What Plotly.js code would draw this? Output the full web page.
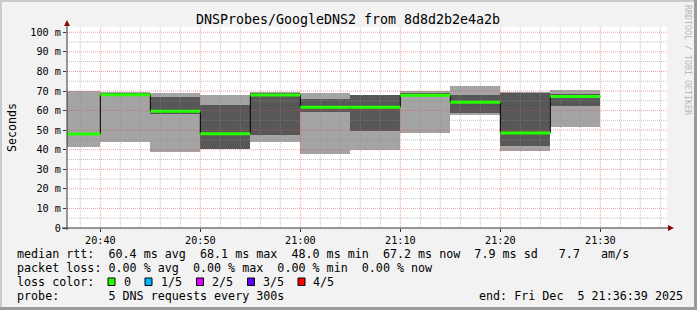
<!DOCTYPE html>
<html><head><meta charset="utf-8">
<script src="https://cdn.plot.ly/plotly-3.0.1.min.js"></script>
<style>
html,body{margin:0;padding:0;background:#f2f2f2;}
#wrap{position:relative;width:697px;height:310px;overflow:hidden;}
#chart{position:absolute;left:0;top:0;width:697px;height:310px;}
.b{position:absolute;pointer-events:none;}
</style></head><body>
<div id="wrap"><div id="chart"></div>
<div class="b" style="left:0;top:0;width:697px;height:2px;background:#cbcbcb"></div>
<div class="b" style="left:0;top:0;width:2px;height:310px;background:#cbcbcb"></div>
<div class="b" style="right:0;top:0;width:3px;height:310px;background:#9a9a9a"></div>
<div class="b" style="left:0;bottom:0;width:697px;height:3px;background:#9a9a9a"></div>
</div>
<script>
// ---- data ----
const day = [2025, 11, 5];           // 2025-12-05 (month index 11)
const times  = ['20:40','20:45','20:50','20:55','21:00','21:05','21:10','21:15','21:20','21:25','21:30'];
const ping1  = [41.6, 44.1, 39.0, 40.2, 44.1, 38.0, 39.9, 48.7, 57.8, 39.6, 51.8];
const ping2  = [47.5, 67.3, 58.5, 40.5, 47.6, 59.1, 49.8, 67.2, 59.0, 41.9, 62.3];
const median = [48.0, 68.1, 59.6, 48.1, 68.0, 61.7, 61.7, 67.8, 64.2, 48.6, 67.2];
const ping4  = [48.5, 68.8, 66.9, 62.9, 69.0, 66.1, 67.9, 69.2, 68.0, 69.1, 68.3];
const ping5  = [70.0, 69.3, 68.8, 68.0, 69.7, 68.8, 68.2, 70.0, 72.6, 69.3, 70.5];
const yTickVals = [0,10,20,30,40,50,60,70,80,90,100];
const yTickText = ['0','10 m','20 m','30 m','40 m','50 m','60 m','70 m','80 m','90 m','100 m'];
const xRange = ['20:36:40','21:36:40'];
const lossLabels = ['0','1/5','2/5','3/5','4/5'];
const lossColors = ['#26ff00','#00b8ff','#dd00ff','#5e00ff','#ff0000'];
const titleText = 'DNSProbes/GoogleDNS2 from 8d8d2b2e4a2b';
const yTitle = 'Seconds';
const statLine1 = 'median rtt:  60.4 ms avg  68.1 ms max  48.0 ms min  67.2 ms now  7.9 ms sd   7.7   am/s';
const statLine2 = 'packet loss: 0.00 % avg  0.00 % max  0.00 % min  0.00 % now';
const statLine3 = 'loss color:';
const statLine4 = 'probe:       5 DNS requests every 300s';
const endText = 'end: Fri Dec  5 21:36:39 2025';
const watermark = 'RRDTOOL / TOBI OETIKER';

// ---- helpers ----
const STEP = 300; // seconds per RRD step
function toMs(hms){ const p = hms.split(':').map(Number); return Date.UTC(day[0],day[1],day[2],p[0],p[1],p[2]||0); }
function fmt(ms){ return new Date(ms).toISOString().slice(0,19).replace('T',' '); }
const tX = times.map(t => fmt(toMs(t)));
const r0 = toMs(xRange[0]), r1 = toMs(xRange[1]);
const Y0 = 0, Y1 = 102.7;

// layout geometry (pixels)
const L = 67, T = 27, W = 600, H = 201;
const px = x => (x - L) / W;
const py = y => (T + H - y) / H;
const nb = s => s.replace(/ /g, '\u00a0');

const traces = [];
// smoke: outer (ping1..ping5) light grey
traces.push({type:'bar', x:tX, base:ping1, y:ping5.map((v,i)=>v-ping1[i]),
  width:STEP*1000, offset:-STEP*1000, marker:{color:'#a4a4a4', line:{width:0}}, hoverinfo:'skip'});
// smoke: inner (ping2..ping4) dark grey
traces.push({type:'bar', x:tX, base:ping2, y:ping4.map((v,i)=>v-ping2[i]),
  width:STEP*1000, offset:-STEP*1000, marker:{color:'#575757', line:{width:0}}, hoverinfo:'skip'});

// grid (drawn over smoke like rrdtool)
const gMinX=[],gMinY=[],gMajX=[],gMajY=[];
for(let m=toMs('20:38'); m<r1; m+=120000){
  const maj = ((m - toMs('20:40')) % 600000) === 0;
  const ax = maj?gMajX:gMinX, ay = maj?gMajY:gMinY;
  ax.push(fmt(m),fmt(m),null); ay.push(Y0,Y1,null);
}
for(let v=5; v<=100; v+=5){
  const maj = v % 10 === 0;
  const ax = maj?gMajX:gMinX, ay = maj?gMajY:gMinY;
  ax.push(fmt(r0),fmt(r1),null); ay.push(v,v,null);
}
traces.push({type:'scatter', mode:'lines', x:gMinX, y:gMinY, line:{color:'rgba(143,143,143,0.55)', width:1, dash:'1px,1px'}, hoverinfo:'skip'});
traces.push({type:'scatter', mode:'lines', x:gMajX, y:gMajY, line:{color:'rgba(222,80,80,0.55)', width:1, dash:'1px,1px'}, hoverinfo:'skip'});

// median: black step + green segments
const sx=[], sy=[], gx=[], gy=[];
tX.forEach((t,i)=>{
  const a = fmt(toMs(times[i]) - STEP*1000);
  sx.push(a,t); sy.push(median[i],median[i]);
  gx.push(a,t,null); gy.push(median[i],median[i],null);
});
traces.push({type:'scatter', mode:'lines', x:sx, y:sy, line:{color:'#000000', width:1}, hoverinfo:'skip'});
traces.push({type:'scatter', mode:'lines', x:gx, y:gy, line:{color:lossColors[0], width:3}, connectgaps:false, hoverinfo:'skip'});

const font = 'DejaVu Sans Mono, monospace';
const shapes = [
  // axes
  {type:'line', xref:'paper', yref:'paper', x0:px(67), x1:px(67), y0:py(230), y1:py(24), line:{color:'#333', width:1}, layer:'above'},
  {type:'line', xref:'paper', yref:'paper', x0:px(62), x1:px(669), y0:py(228), y1:py(228), line:{color:'#333', width:1}, layer:'above'},
  // arrows
  {type:'path', xref:'paper', yref:'paper', path:`M ${px(64)},${py(26)} L ${px(70)},${py(26)} L ${px(67)},${py(20)} Z`, fillcolor:'#8b0a0a', line:{width:0}, layer:'above'},
  {type:'path', xref:'paper', yref:'paper', path:`M ${px(668)},${py(225)} L ${px(668)},${py(231)} L ${px(674)},${py(228)} Z`, fillcolor:'#8b0a0a', line:{width:0}, layer:'above'}
];
const annotations = [];
const textRow = (txt, x, y) => annotations.push({text:nb(txt), xref:'paper', yref:'paper', x:px(x), y:py(y), xanchor:'left', yanchor:'middle', showarrow:false, font:{family:font, size:11.7, color:'#000'}});
textRow(statLine1, 14.5, 254.3);
textRow(statLine2, 14.5, 268.3);
textRow(statLine3, 14.5, 281.7);
textRow(statLine4, 14.5, 296);
textRow(endText, 477, 296);
const boxLeft = [108, 145, 196.5, 247.5, 298];
const labLeft = [121.5, 159.2, 209.5, 260.8, 311.2];
lossLabels.forEach((lab,i)=>{
  shapes.push({type:'rect', xref:'paper', yref:'paper', x0:px(boxLeft[i]), x1:px(boxLeft[i]+7), y0:py(285.5), y1:py(278), fillcolor:lossColors[i], line:{color:'#000', width:1}, layer:'above'});
  textRow(lab, labLeft[i], 281.7);
});
annotations.push({text:nb(watermark), xref:'paper', yref:'paper', x:px(688), y:py(60), xanchor:'center', yanchor:'middle', textangle:90, showarrow:false, font:{family:font, size:8.3, color:'#b8b8b8'}});

const layout = {
  width:697, height:310,
  margin:{l:L, r:697-L-W, t:T, b:310-T-H, pad:0},
  paper_bgcolor:'#f2f2f2', plot_bgcolor:'#ffffff',
  showlegend:false, barmode:'overlay', bargap:0,
  font:{family:font, color:'#000'},
  title:{text:titleText, font:{family:font, size:13.3, color:'#000'}, x:348/697, xref:'container', xanchor:'center', y:1-19.3/310, yref:'container', yanchor:'middle'},
  xaxis:{type:'date', range:[fmt(r0), fmt(r1)], tickformat:'%H:%M', tick0:tX[0], dtick:600000,
    ticks:'outside', ticklen:3, tickcolor:'#333', tickfont:{family:font, size:10.2, color:'#000'},
    showgrid:false, zeroline:false, showline:false, fixedrange:true},
  yaxis:{range:[Y0,Y1], tickvals:yTickVals, ticktext:yTickText,
    ticks:'outside', ticklen:3, tickcolor:'#333', tickfont:{family:font, size:10.2, color:'#000'},
    showgrid:false, zeroline:false, showline:false, fixedrange:true,
    title:{text:yTitle, font:{family:font, size:11.6, color:'#000'}, standoff:11}},
  shapes, annotations
};
Plotly.newPlot('chart', traces, layout, {displayModeBar:false, staticPlot:true});
</script>
</body></html>
